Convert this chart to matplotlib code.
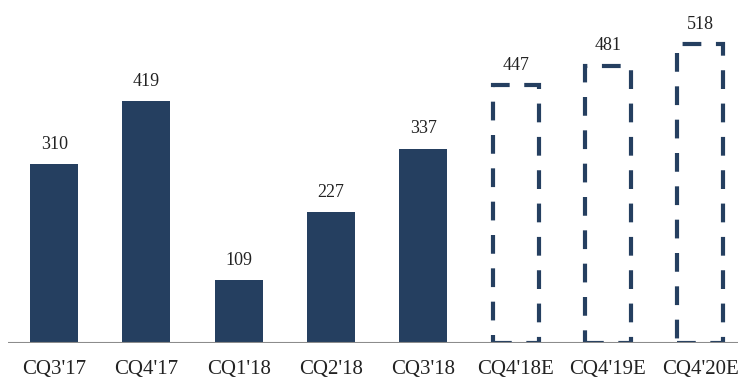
import numpy as np
import matplotlib
matplotlib.use('Agg')
import matplotlib.pyplot as plt

categories = ["CQ3'17", "CQ4'17", "CQ1'18", "CQ2'18", "CQ3'18", "CQ4'18E", "CQ4'19E", "CQ4'20E"]
values = [310, 419, 109, 227, 337, 447, 481, 518]
estimate = [False, False, False, False, False, True, True, True]

navy = '#253f60'
plt.rcParams['font.family'] = ['Liberation Serif', 'DejaVu Serif']

fig = plt.figure(figsize=(7.38, 3.78), dpi=100)
ax = fig.add_axes([8 / 738, 35 / 378, 730 / 738, 343 / 378])

x = np.arange(len(categories))
for xi, v, est in zip(x, values, estimate):
    if est:
        # estimates: dashed outline only
        ax.bar(xi, v, width=0.5, facecolor='none', edgecolor=navy, linewidth=3,
               linestyle=(0, (4.5, 3.5)), zorder=2)
    else:
        ax.bar(xi, v, width=0.52, color=navy, zorder=2)
    ax.text(xi, v + 20, str(v), ha='center', va='bottom', fontsize=13, color='#222222')

ax.set_xlim(-0.5, 7.41)
ax.set_ylim(0, 595)
ax.axhline(0, color='#8c8c8c', linewidth=1.5, zorder=3)

ax.set_xticks(x)
ax.set_xticklabels(categories, fontsize=15, color='#222222')
ax.tick_params(axis='x', length=0, pad=12)
ax.set_yticks([])
for s in ax.spines.values():
    s.set_visible(False)

fig.savefig('out.png', dpi=100)
